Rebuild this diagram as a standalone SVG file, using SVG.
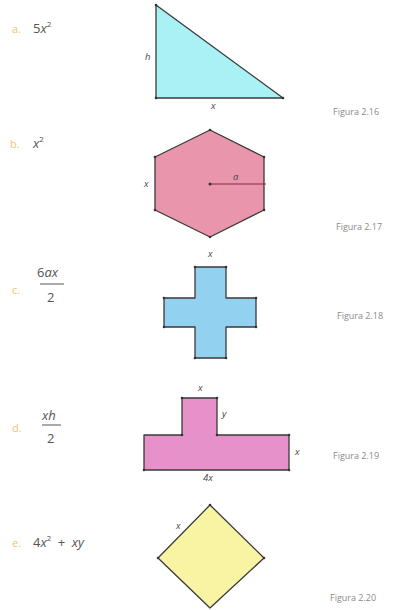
<svg xmlns="http://www.w3.org/2000/svg" width="405" height="610" viewBox="0 0 405 610">
<style>
.bg{fill:#ffffff}
.shape{stroke:#3a3a3a;stroke-width:1.3;stroke-linejoin:round}
.dot{fill:#333}
.lbl{font-family:"Open Sans","Liberation Sans",sans-serif;font-size:11px;fill:#f2c46e}
.expr{font-family:"Open Sans","Liberation Sans",sans-serif;font-size:13px;fill:#555}
.var{font-family:"Open Sans","Liberation Sans",sans-serif;font-size:9.5px;font-style:italic;fill:#444}
.fig{font-family:"Open Sans","Liberation Sans",sans-serif;font-size:9px;fill:#8a8a8a}
.frac{stroke:#555;stroke-width:1}
</style>
<rect class="bg" x="0" y="0" width="405" height="610"/>

<g id="item-a">
<text class="lbl" x="12" y="33">a.</text>
<text class="expr" x="33" y="33">5<tspan font-style="italic">x</tspan><tspan font-size="8" dy="-6">2</tspan></text>
</g>
<g id="fig-2-16">
<polygon class="shape" fill="#a9f1f5" points="156,5 156,98 283,98"/>
<circle class="dot" cx="156" cy="5" r="1.3"/>
<circle class="dot" cx="156" cy="98" r="1.3"/>
<circle class="dot" cx="283" cy="98" r="1.3"/>
<text class="var" x="145" y="60">h</text>
<text class="var" x="211" y="109">x</text>
<text class="fig" x="333" y="115">Figura 2.16</text>
</g>

<g id="item-b">
<text class="lbl" x="10" y="148">b.</text>
<text class="expr" x="33" y="148"><tspan font-style="italic">x</tspan><tspan font-size="8" dy="-6">2</tspan></text>
</g>
<g id="fig-2-17">
<polygon class="shape" fill="#e996ad" points="210,130 264,157 264,210 210,237 155,210 155,157"/>
<line x1="210" y1="184" x2="266" y2="184" stroke="#8a2a3a" stroke-width="1.2"/>
<circle class="dot" cx="210" cy="184" r="1.5"/>
<circle class="dot" cx="210" cy="130" r="1.3"/>
<circle class="dot" cx="264" cy="157" r="1.3"/>
<circle class="dot" cx="264" cy="210" r="1.3"/>
<circle class="dot" cx="210" cy="237" r="1.3"/>
<circle class="dot" cx="155" cy="210" r="1.3"/>
<circle class="dot" cx="155" cy="157" r="1.3"/>
<text class="var" x="233" y="180">a</text>
<text class="var" x="144" y="187">x</text>
<text class="var" x="208" y="257">x</text>
<text class="fig" x="336" y="230">Figura 2.17</text>
</g>

<g id="item-c">
<text class="lbl" x="12" y="294">c.</text>
<text class="expr" x="37" y="277" font-size="15">6<tspan font-style="italic">ax</tspan></text>
<line class="frac" x1="40" y1="284" x2="64" y2="284"/>
<text class="expr" x="47" y="302" font-size="15">2</text>
</g>
<g id="fig-2-18">
<polygon class="shape" fill="#92d2f0" points="195,267 226,267 226,298 256,298 256,327 226,327 226,358 195,358 195,327 164,327 164,298 195,298"/>
<circle class="dot" cx="195" cy="267" r="1.3"/>
<circle class="dot" cx="226" cy="267" r="1.3"/>
<circle class="dot" cx="256" cy="298" r="1.3"/>
<circle class="dot" cx="256" cy="327" r="1.3"/>
<circle class="dot" cx="226" cy="358" r="1.3"/>
<circle class="dot" cx="195" cy="358" r="1.3"/>
<circle class="dot" cx="164" cy="327" r="1.3"/>
<circle class="dot" cx="164" cy="298" r="1.3"/>
<text class="fig" x="337" y="319">Figura 2.18</text>
</g>

<g id="item-d">
<text class="lbl" x="12" y="432">d.</text>
<text class="expr" x="42" y="420" font-size="15" font-style="italic">xh</text>
<line class="frac" x1="42" y1="425" x2="61" y2="425"/>
<text class="expr" x="47" y="443" font-size="15">2</text>
</g>
<g id="fig-2-19">
<polygon class="shape" fill="#e691c9" points="182,398 217,398 217,435 289,435 289,470 144,470 144,435 182,435"/>
<circle class="dot" cx="182" cy="398" r="1.3"/>
<circle class="dot" cx="217" cy="398" r="1.3"/>
<circle class="dot" cx="217" cy="435" r="1.3"/>
<circle class="dot" cx="182" cy="435" r="1.3"/>
<circle class="dot" cx="289" cy="435" r="1.3"/>
<circle class="dot" cx="289" cy="470" r="1.3"/>
<circle class="dot" cx="144" cy="470" r="1.3"/>
<text class="var" x="198" y="391">x</text>
<text class="var" x="222" y="417">y</text>
<text class="var" x="295" y="455">x</text>
<text class="var" x="203" y="481">4x</text>
<text class="fig" x="333" y="459">Figura 2.19</text>
</g>

<g id="item-e">
<text class="lbl" x="12" y="547">e.</text>
<text class="expr" x="33" y="547">4<tspan font-style="italic">x</tspan><tspan font-size="8" dy="-6">2</tspan><tspan dy="6">&#8194;+&#8194;</tspan><tspan font-style="italic">xy</tspan></text>
</g>
<g id="fig-2-20">
<polygon class="shape" fill="#f8f4a4" points="210,505 264,558 210,608 158,558"/>
<circle class="dot" cx="210" cy="505" r="1.3"/>
<circle class="dot" cx="264" cy="558" r="1.3"/>
<circle class="dot" cx="158" cy="558" r="1.3"/>
<text class="var" x="176" y="529">x</text>
<text class="fig" x="330" y="601">Figura 2.20</text>
</g>

<g id="connectors"></g>
</svg>
